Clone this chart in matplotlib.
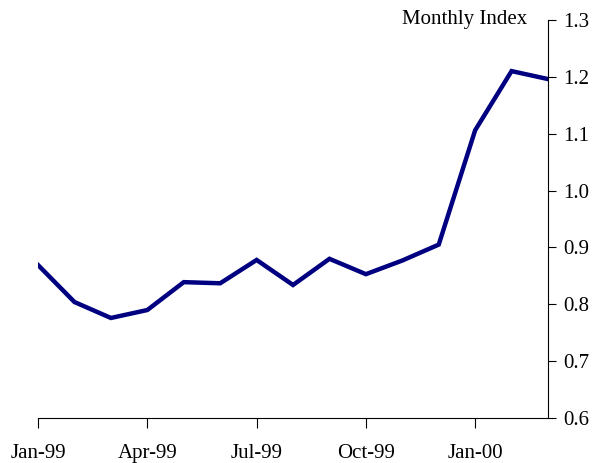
import matplotlib.pyplot as plt
import numpy as np

months = ['Jan-99', 'Feb-99', 'Mar-99', 'Apr-99', 'May-99', 'Jun-99', 'Jul-99',
          'Aug-99', 'Sep-99', 'Oct-99', 'Nov-99', 'Dec-99', 'Jan-00', 'Feb-00', 'Mar-00']
index_vals = [0.869, 0.804, 0.776, 0.790, 0.839, 0.837, 0.878,
              0.834, 0.880, 0.853, 0.877, 0.905, 1.106, 1.210, 1.196]
tick_labels = ['Jan-99', 'Apr-99', 'Jul-99', 'Oct-99', 'Jan-00']

plt.rcParams['font.family'] = ['Liberation Serif', 'DejaVu Serif']

fig = plt.figure(figsize=(5.95, 4.63), dpi=100)
ax = fig.add_axes([0.064, 0.097, 0.857, 0.86])

x = np.arange(len(months))
ax.plot(x, index_vals, color='#000080', linewidth=3.2, solid_joinstyle='miter')

ax.set_xlim(0, len(months) - 1)
ax.set_ylim(0.6, 1.3)
ax.set_xticks([months.index(t) for t in tick_labels])
ax.set_xticklabels(tick_labels, fontsize=15)
ax.set_yticks(np.arange(0.6, 1.31, 0.1))
ax.set_yticklabels(['%.1f' % v for v in np.arange(0.6, 1.31, 0.1)], fontsize=15)

ax.spines['top'].set_visible(False)
ax.spines['left'].set_visible(False)
ax.yaxis.tick_right()
ax.tick_params(axis='x', direction='out', length=7, width=0.8, pad=12)
ax.tick_params(axis='y', direction='out', length=6, width=0.8, pad=5)
ax.spines['right'].set_linewidth(0.8)
ax.spines['bottom'].set_linewidth(0.8)

ax.text(0.96, 1.0, 'Monthly Index', transform=ax.transAxes, ha='right', va='center',
        fontsize=15)

fig.savefig('out.png', dpi=100)
